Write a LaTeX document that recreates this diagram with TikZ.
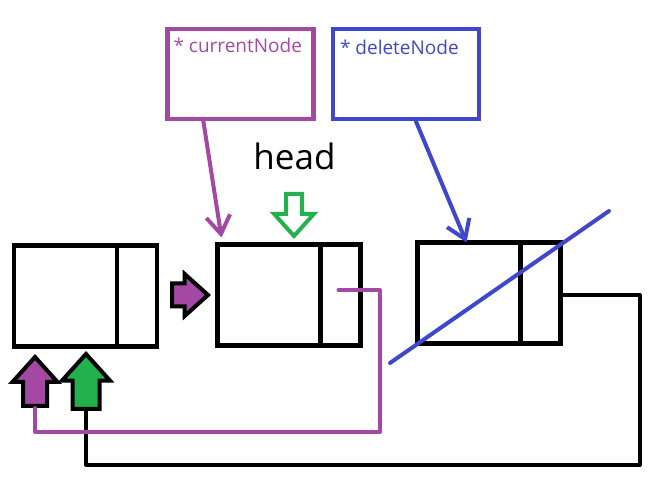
\documentclass[tikz,border=0pt]{standalone}
\usepackage{fontspec}
\setmainfont{Open Sans}
\usetikzlibrary{arrows.meta,positioning,shapes.arrows}
\definecolor{lpurple}{HTML}{A349A4}
\definecolor{lgreen}{HTML}{22B14C}
\definecolor{lblue}{HTML}{3F48CC}
\tikzset{
  dat/.style={draw,line width=4.5pt,minimum width=103pt,minimum height=101pt,inner sep=0pt,outer sep=0pt},
  nxt/.style={dat,minimum width=40pt,right=0pt of #1},
  ptrbox/.style={draw=#1,line width=4.3pt,minimum width=146pt,minimum height=90pt,inner sep=0pt},
  ptrlbl/.style={text=#1,font=\fontsize{19}{22}\selectfont,anchor=north west,inner sep=0pt},
  fat/.style={single arrow,draw=black,line width=4pt,fill=#1,inner sep=0pt,single arrow tip angle=84,anchor=tail},
  ptr/.style={draw=#1,line width=4pt,line cap=round,-{Straight Barb[length=18pt,width=24pt]}},
  wire/.style={draw=#1,line width=4pt,line join=round},
}
\begin{document}
\begin{tikzpicture}
 \useasboundingbox (0,0) rectangle (657pt,482pt);
 \node[dat] (an) at (65.5pt,186pt){}; \node[nxt=an] (ap){};
 \node[dat] (bn) at (269pt,187pt){}; \node[nxt=bn] (bp){};
 \node[dat] (cn) at (469pt,189pt){}; \node[nxt=cn] (cp){};
 \node[ptrbox=lpurple] (cur) at (240.5pt,408pt){}; \node[ptrlbl=lpurple] (curlbl) at ([shift={(8pt,-11pt)}]cur.north west){* currentNode};
 \node[ptrbox=lblue] (del) at (406pt,408pt){}; \node[ptrlbl=lblue] (dellbl) at ([shift={(9pt,-13pt)}]del.north west){* deleteNode};
 \node[anchor=base,font=\fontsize{35}{40}\selectfont] (head) at (294.5pt,312pt){head};
 \node[fat=white,draw=lgreen,minimum height=42pt,inner ysep=6pt,single arrow head extend=12pt,rotate=-90] (hd) at (294pt,290pt){};
 \node[fat=lpurple,minimum height=36pt,inner ysep=9.5pt,single arrow head extend=9.5pt] (pr) at (170pt,187pt){};
 \node[fat=lpurple,minimum height=49pt,inner ysep=10pt,single arrow head extend=10.5pt,rotate=90] (pu) at (35pt,74pt){};
 \node[fat=lgreen,minimum height=55pt,inner ysep=11.5pt,single arrow head extend=10.5pt,rotate=90] (gu) at (86pt,71pt){};
 \coordinate (pturn) at (380pt,50pt); \coordinate (bturn) at (639.5pt,17pt);
 \draw[wire=black] ([yshift=-2pt]cp.east) -| (bturn) -| (gu.tail);
 \draw[wire=lpurple,line cap=round] ([shift={(-2pt,5pt)}]bp.center) -| (pturn) -| (pu.tail);
 \draw[ptr=lpurple] ([xshift=38pt]cur.south west) -- ([shift={(4pt,7pt)}]bn.north west);
 \draw[ptr=lblue] ([xshift=85pt]del.south west) -- ([xshift=49pt]cn.north west);
 \draw[wire=lblue,line cap=round] (390pt,119pt) -- (609pt,271pt);
\end{tikzpicture}
\end{document}
